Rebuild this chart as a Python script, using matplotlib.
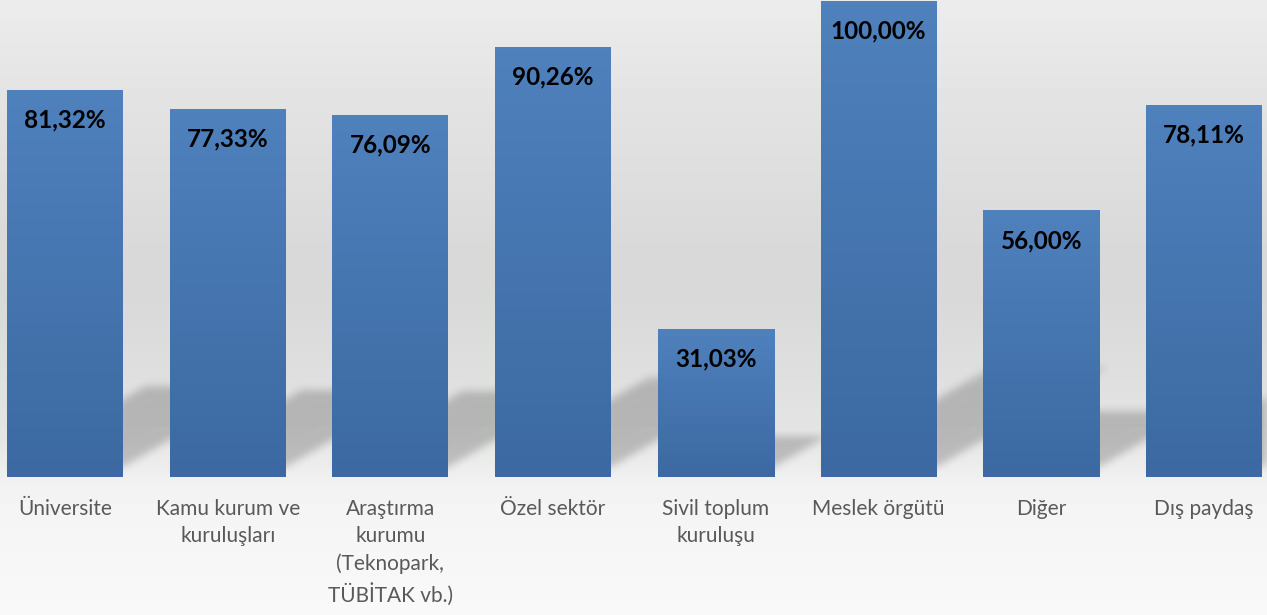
import numpy as np
import matplotlib.pyplot as plt
from matplotlib.path import Path
from matplotlib.colors import LinearSegmentedColormap

# ====== Data ======
categories = ['Üniversite', 'Kamu kurum ve\nkuruluşları',
              'Araştırma\nkurumu\n(Teknopark,\nTÜBİTAK vb.)', 'Özel sektör',
              'Sivil toplum\nkuruluşu', 'Meslek örgütü', 'Diğer', 'Dış paydaş']
values = [81.32, 77.33, 76.09, 90.26, 31.03, 100.00, 56.00, 78.11]

# background gradient stops: (pixel row from top, gray level)
bg_rows = [0, 100, 250, 300, 380, 440, 477, 490, 615]
bg_levels = [0.925, 0.89, 0.85, 0.85, 0.875, 0.90, 0.94, 0.955, 0.975]

W, H = 1267, 615
fig = plt.figure(figsize=(W / 100, H / 100), dpi=100)

# ====== Background ======
bg = fig.add_axes([0, 0, 1, 1], zorder=-10)
col = np.interp(np.arange(H), bg_rows, bg_levels)
bg.imshow(np.tile(col[:, None], (1, 8)), cmap='gray', vmin=0, vmax=1,
          aspect='auto', extent=[0, 1, 0, 1], interpolation='nearest')
bg.axis('off')

# ====== Main axes ======
ax_bottom, ax_h = 138, 477
ax = fig.add_axes([0, ax_bottom / H, 1, ax_h / H])
ax.patch.set_alpha(0)
step_px = 162.7
x0_px = 65
xlim = (-x0_px / step_px, (W - x0_px) / step_px)
ylim = (0, 100 * ax_h / 476)
width = 116 / step_px
x = np.arange(len(values))

bars = ax.bar(x, values, width, color='none', edgecolor='none', zorder=3)

# per-bar vertical gradient
bar_cmap = LinearSegmentedColormap.from_list('bar', ['#3c69a1', '#4f81bd'])
grad = np.linspace(0, 1, 100)[:, None]
for rect in bars:
    bx, bw, bh = rect.get_x(), rect.get_width(), rect.get_height()
    im = ax.imshow(grad, extent=[bx, bx + bw, 0, bh], origin='lower', cmap=bar_cmap,
                   aspect='auto', zorder=3, interpolation='bilinear')
    im.set_clip_path(rect)

# ====== Perspective shadows (from bar geometry) ======
px_x = (xlim[1] - xlim[0]) / W      # data units per pixel
px_y = (ylim[1] - ylim[0]) / ax_h
gx, gy = np.meshgrid(np.arange(W) + 0.5, np.arange(ax_h) + 0.5)
pts = np.column_stack([gx.ravel(), gy.ravel()])
mask = np.zeros(W * ax_h, dtype=bool)
s, k, lift = 0.21, 0.36, 10
for rect in bars:
    xl = (rect.get_x() - xlim[0]) / px_x
    xr = xl + rect.get_width() / px_x
    hp = rect.get_height() / px_y
    poly = Path([(xl, lift), (xr, lift), (xr + k * hp, lift + s * hp),
                 (xl + k * hp, lift + s * hp)])
    mask |= poly.contains_points(pts)
mask = mask.reshape(ax_h, W).astype(float)
sig = 4.0
kern = np.exp(-0.5 * (np.arange(-12, 13) / sig) ** 2)
kern /= kern.sum()
mask = np.apply_along_axis(lambda r: np.convolve(r, kern, mode='same'), 1, mask)
mask = np.apply_along_axis(lambda c: np.convolve(c, kern, mode='same'), 0, mask)
fade = np.clip(1 - (np.arange(ax_h) - 85) / 120, 0.55, 1)[:, None]
shadow = np.zeros((ax_h, W, 4))
shadow[..., 3] = mask * 0.2 * fade
ax.imshow(shadow, extent=[xlim[0], xlim[1], ylim[0], ylim[1]], origin='lower',
          aspect='auto', zorder=1, interpolation='bilinear')

# ====== Value labels ======
for rect, v in zip(bars, values):
    ax.annotate(f'{v:.2f}%'.replace('.', ','),
                (rect.get_x() + rect.get_width() / 2, rect.get_height()),
                xytext=(0, -21.6), textcoords='offset points',
                ha='center', va='center', fontsize=17.5, fontweight='bold',
                family='Lato', color='black', zorder=5)

ax.set_xlim(*xlim)
ax.set_ylim(*ylim)
ax.set_xticks(x)
ax.set_xticklabels(categories, family='Lato', fontsize=15, color='#595959',
                   linespacing=1.46)
ax.tick_params(axis='x', length=0, pad=15.5)
ax.set_yticks([])
for sp in ax.spines.values():
    sp.set_visible(False)

plt.savefig('out.png', dpi=100)
